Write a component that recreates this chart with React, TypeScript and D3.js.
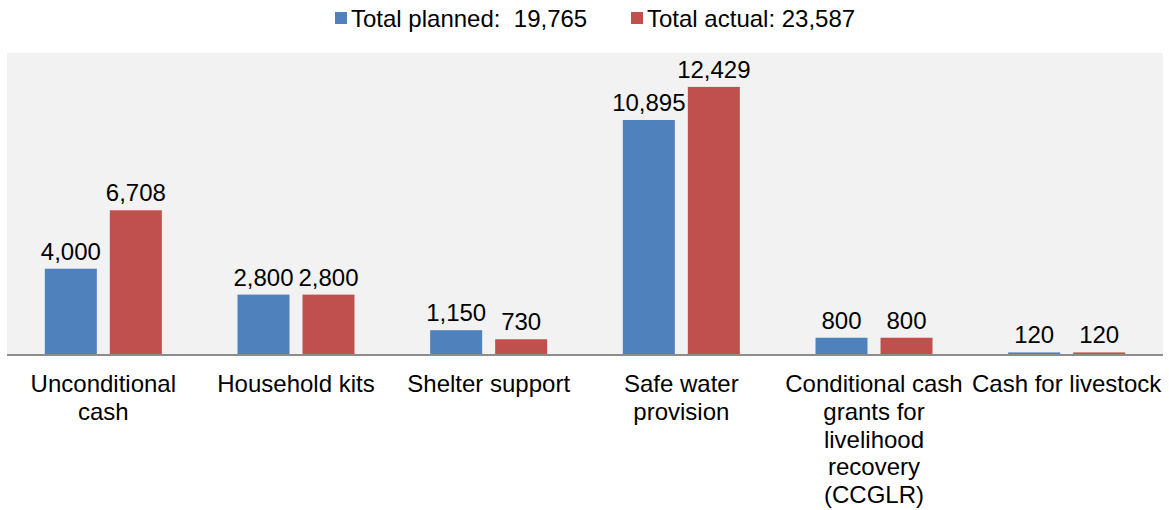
import React from "react";
import * as d3 from "d3";

const categories = [
  ["Unconditional", "cash"],
  ["Household kits"],
  ["Shelter support"],
  ["Safe water", "provision"],
  ["Conditional cash", "grants for", "livelihood", "recovery", "(CCGLR)"],
  ["Cash for livestock"],
];
const planned = [4000, 2800, 1150, 10895, 800, 120];
const actual = [6708, 2800, 730, 12429, 800, 120];
const seriesNames = ["Total planned:  19,765", "Total actual: 23,587"];
const colors = ["#4F81BD", "#C0504D"];

export default function App() {
  const W = 1169, H = 510;
  const left = 7, right = 1163, top = 53, bottom = 355;
  const x0 = d3.scaleBand<number>().domain(d3.range(categories.length)).range([left, right]).paddingInner(0).paddingOuter(0);
  const y = d3.scaleLinear().domain([0, 14000]).range([bottom, top]);
  const fmt = d3.format(",");
  const bw = 52, gap = 13;
  const font = "Liberation Sans, Arial, sans-serif";
  const fs = 24;
  const series = [planned, actual];
  return (
    <svg width={W} height={H} style={{ position: "absolute", left: 0, top: 0 }} fontFamily={font}>
      <rect x={left} y={top} width={right - left} height={bottom - top} fill="#F2F2F2" />
      {series.map((vals, si) =>
        vals.map((v, i) => {
          const c = x0(i)! + x0.bandwidth() / 2;
          const bx = si === 0 ? c - gap / 2 - bw : c + gap / 2;
          return (
            <g key={`${si}-${i}`}>
              <rect x={bx} y={y(v)} width={bw} height={bottom - y(v)} fill={colors[si]} />
              <text x={bx + bw / 2} y={y(v) - 9} textAnchor="middle" fontSize={fs} fill="#000">
                {fmt(v)}
              </text>
            </g>
          );
        })
      )}
      <line x1={left} x2={right} y1={bottom} y2={bottom} stroke="#8C8C8C" strokeWidth={2} />
      {categories.map((lines, i) => (
        <text key={i} x={x0(i)! + x0.bandwidth() / 2} textAnchor="middle" fontSize={fs} fill="#000">
          {lines.map((l, j) => (
            <tspan key={j} x={x0(i)! + x0.bandwidth() / 2} y={392 + j * 27.8}>{l}</tspan>
          ))}
        </text>
      ))}
      <g>
        <rect x={335} y={12} width={12} height={12} fill={colors[0]} />
        <text x={351} y={27} fontSize={fs} style={{ whiteSpace: "pre" }}>{seriesNames[0]}</text>
        <rect x={631} y={12} width={12} height={12} fill={colors[1]} />
        <text x={647} y={27} fontSize={fs} style={{ whiteSpace: "pre" }}>{seriesNames[1]}</text>
      </g>
    </svg>
  );
}
